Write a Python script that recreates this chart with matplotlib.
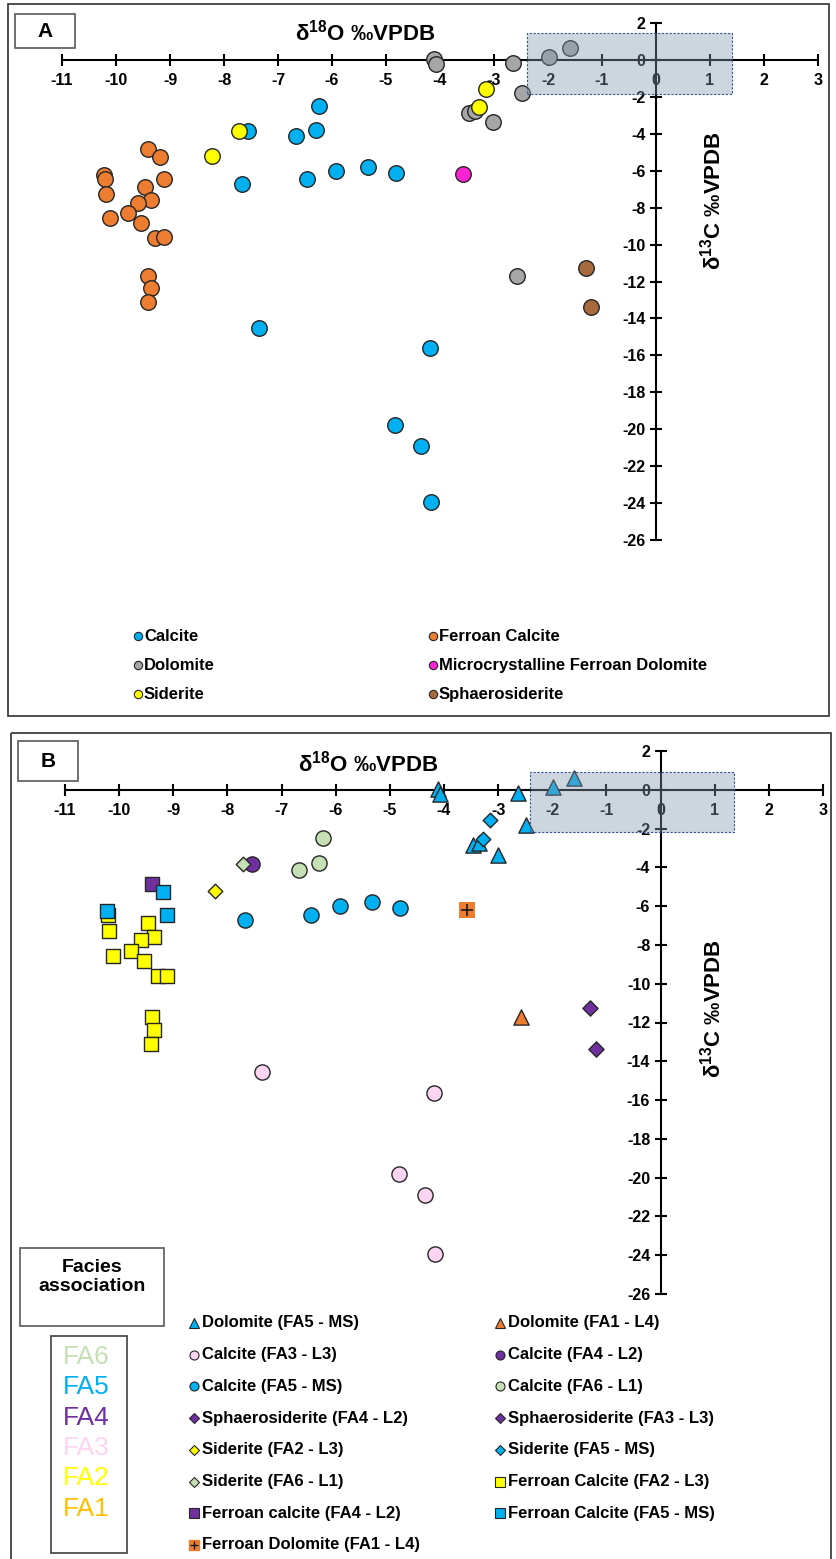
import matplotlib
matplotlib.use("Agg")
import matplotlib.pyplot as plt
from matplotlib.patches import Rectangle

plt.rcParams['font.family'] = ['Liberation Sans', 'DejaVu Sans']
plt.rcParams['font.weight'] = 'bold'
plt.rcParams['axes.unicode_minus'] = False
plt.rcParams['mathtext.fontset'] = 'custom'
plt.rcParams['mathtext.rm'] = 'Liberation Sans'
plt.rcParams['mathtext.bf'] = 'Liberation Sans:bold'

W, H = 836, 1559

# ---------------- data, panel A (by mineral) ----------------
calcite_x = [-6.24, -7.55, -6.67, -6.30, -5.93, -5.33, -4.81, -6.46, -7.67, -7.36, -4.19, -4.84, -4.35, -4.17]
calcite_y = [-2.49, -3.85, -4.12, -3.79, -6.01, -5.80, -6.12, -6.45, -6.72, -14.54, -15.62, -19.79, -20.89, -23.94]
fcalcite_x = [-9.40, -9.19, -10.23, -10.20, -9.12, -10.19, -9.46, -9.36, -9.59, -9.78, -10.12, -9.54, -9.28, -9.12, -9.40, -9.35, -9.41]
fcalcite_y = [-4.84, -5.27, -6.25, -6.45, -6.45, -7.26, -6.86, -7.60, -7.75, -8.30, -8.56, -8.85, -9.62, -9.60, -11.70, -12.37, -13.09]
dolomite_x = [-4.12, -4.08, -2.64, -1.99, -1.59, -2.48, -3.46, -3.35, -3.01, -2.57]
dolomite_y = [0.05, -0.22, -0.14, 0.14, 0.63, -1.81, -2.85, -2.76, -3.36, -11.70]
siderite_x = [-7.72, -8.23, -3.15, -3.28]
siderite_y = [-3.85, -5.22, -1.57, -2.56]
microdol_x = [-3.57]
microdol_y = [-6.19]
sphaero_x = [-1.30, -1.20]
sphaero_y = [-11.27, -13.38]

# ---------------- data, panel B (by facies association) ----------------
dol_fa5_x = [-4.12, -4.08, -2.64, -1.99, -1.59, -2.48, -3.46, -3.35, -3.01]
dol_fa5_y = [0.05, -0.22, -0.14, 0.14, 0.63, -1.81, -2.85, -2.76, -3.36]
dol_fa1_x = [-2.57]
dol_fa1_y = [-11.70]
cal_fa3_x = [-7.36, -4.19, -4.84, -4.35, -4.17]
cal_fa3_y = [-14.54, -15.62, -19.79, -20.89, -23.94]
cal_fa4_x = [-7.55]
cal_fa4_y = [-3.85]
cal_fa5_x = [-5.93, -5.33, -4.81, -6.46, -7.67]
cal_fa5_y = [-6.01, -5.80, -6.12, -6.45, -6.72]
cal_fa6_x = [-6.24, -6.67, -6.30]
cal_fa6_y = [-2.49, -4.12, -3.79]
sph_fa4_x = [-1.30]
sph_fa4_y = [-11.27]
sph_fa3_x = [-1.20]
sph_fa3_y = [-13.38]
sid_fa2_x = [-8.23]
sid_fa2_y = [-5.22]
sid_fa5_x = [-3.15, -3.28]
sid_fa5_y = [-1.57, -2.56]
sid_fa6_x = [-7.72]
sid_fa6_y = [-3.85]
fc_fa2_x = [-10.20, -10.19, -9.46, -9.36, -9.59, -9.78, -10.12, -9.54, -9.28, -9.12, -9.40, -9.35, -9.41]
fc_fa2_y = [-6.45, -7.26, -6.86, -7.60, -7.75, -8.30, -8.56, -8.85, -9.62, -9.60, -11.70, -12.37, -13.09]
fc_fa4_x = [-9.40]
fc_fa4_y = [-4.84]
fc_fa5_x = [-9.19, -10.23, -9.12]
fc_fa5_y = [-5.27, -6.25, -6.45]
fd_fa1_x = [-3.57]
fd_fa1_y = [-6.19]

x_ticks = list(range(-11, 4))
y_ticks = list(range(-26, 3, 2))

BLUE = '#00b0f0'
ORANGE = '#ed7d31'
GREY = '#a6a6a6'
MAGENTA = '#ff22d2'
YELLOW = '#ffff00'
BROWN = '#a66a3e'
PINK = '#fdd4f2'
PURPLE = '#7030a0'
LGREEN = '#c5e0b4'


def px_axes(x0, x1, ytop, ybot):
    return [x0 / W, 1 - ybot / H, (x1 - x0) / W, (ybot - ytop) / H]


fig = plt.figure(figsize=(W / 100, H / 100), dpi=100)

# overlay in pixel coordinates for frames / legends
ov = fig.add_axes([0, 0, 1, 1])
ov.set_xlim(0, W)
ov.set_ylim(H, 0)
ov.axis('off')


def setup_axes(ax):
    ax.set_facecolor('none')
    ax.set_xlim(-11, 3)
    ax.set_ylim(-26, 2)
    for s in ['top', 'right']:
        ax.spines[s].set_visible(False)
    ax.spines['left'].set_position(('data', 0))
    ax.spines['bottom'].set_position(('data', 0))
    for s in ['left', 'bottom']:
        ax.spines[s].set_linewidth(1.5)
    ax.set_xticks(x_ticks)
    ax.set_yticks(y_ticks)
    ax.tick_params(direction='inout', length=9, width=1.5, labelsize=11.5, pad=3)
    ax.tick_params(axis='x', pad=5)
    for lab in ax.get_xticklabels() + ax.get_yticklabels():
        lab.set_fontweight('bold')


# ================= panel A =================
ov.add_patch(Rectangle((8, 4), 821, 712, fill=False, ec='#404040', lw=1.3))
ov.add_patch(Rectangle((15, 14), 60, 34, fill=False, ec='#595959', lw=1.2))
ov.text(45, 31, 'A', ha='center', va='center', fontsize=15, fontweight='bold')

axA = fig.add_axes(px_axes(62, 818, 23, 540))
setup_axes(axA)
kw = dict(edgecolors='#262626', linewidths=1.0, s=125, zorder=3, clip_on=False)
axA.scatter(calcite_x, calcite_y, c=BLUE, **kw)
axA.scatter(fcalcite_x, fcalcite_y, c=ORANGE, **kw)
axA.scatter(dolomite_x, dolomite_y, c=GREY, **kw)
axA.scatter(siderite_x, siderite_y, c=YELLOW, **kw)
axA.scatter(microdol_x, microdol_y, c=MAGENTA, **kw)
axA.scatter(sphaero_x, sphaero_y, c=BROWN, **kw)
axA.add_patch(Rectangle((-2.39, -1.84), 3.79, 3.29, fc=(0.518, 0.592, 0.69, 0.4),
                        ec='#2f5597', lw=0.8, ls=(0, (2, 1.5)), zorder=4))
ov.text(365, 33, 'δ$^{\\mathbf{18}}$O ‰VPDB', ha='center', va='center', fontsize=16, fontweight='bold')
ov.text(713, 201, 'δ$^{\\mathbf{13}}$C ‰VPDB', ha='center', va='center', rotation=90,
        fontsize=16, fontweight='bold')

legA = [('Calcite', BLUE), ('Ferroan Calcite', ORANGE), ('Dolomite', GREY),
        ('Microcrystalline Ferroan Dolomite', MAGENTA), ('Siderite', YELLOW), ('Sphaerosiderite', BROWN)]
for i, (lab, col) in enumerate(legA):
    cx = 138 if i % 2 == 0 else 433
    cy = 636 + 29 * (i // 2)
    ov.plot(cx, cy, 'o', ms=6, mfc=col, mec='#262626', mew=0.8)
    ov.text(cx + 6, cy, lab, ha='left', va='center', fontsize=12, fontweight='bold')

# ================= panel B =================
ov.add_patch(Rectangle((11, 733), 820, 840, fill=False, ec='#404040', lw=1.3, clip_on=True))
ov.add_patch(Rectangle((18, 741), 60, 40, fill=False, ec='#595959', lw=1.2))
ov.text(48, 761, 'B', ha='center', va='center', fontsize=15, fontweight='bold')

axB = fig.add_axes(px_axes(65, 823, 751, 1294))
setup_axes(axB)
ek = dict(edgecolors='#262626', linewidths=1.0, zorder=3, clip_on=False)
axB.scatter(cal_fa3_x, cal_fa3_y, c=PINK, marker='o', s=120, **ek)
axB.scatter(cal_fa4_x, cal_fa4_y, c=PURPLE, marker='o', s=120, **ek)
axB.scatter(cal_fa5_x, cal_fa5_y, c=BLUE, marker='o', s=120, **ek)
axB.scatter(cal_fa6_x, cal_fa6_y, c=LGREEN, marker='o', s=120, **ek)
axB.scatter(dol_fa5_x, dol_fa5_y, c=BLUE, marker='^', s=120, **ek)
axB.scatter(dol_fa1_x, dol_fa1_y, c=ORANGE, marker='^', s=120, **ek)
axB.scatter(sph_fa4_x, sph_fa4_y, c=PURPLE, marker='D', s=60, **ek)
axB.scatter(sph_fa3_x, sph_fa3_y, c=PURPLE, marker='D', s=60, **ek)
axB.scatter(sid_fa2_x, sid_fa2_y, c=YELLOW, marker='D', s=55, **ek)
axB.scatter(sid_fa5_x, sid_fa5_y, c=BLUE, marker='D', s=55, **ek)
axB.scatter(sid_fa6_x, sid_fa6_y, c=LGREEN, marker='D', s=55, **ek)
axB.scatter(fc_fa2_x, fc_fa2_y, c=YELLOW, marker='s', s=110, **ek)
axB.scatter(fc_fa4_x, fc_fa4_y, c=PURPLE, marker='s', s=110, **ek)
axB.scatter(fc_fa5_x, fc_fa5_y, c=BLUE, marker='s', s=110, **ek)
axB.scatter(fd_fa1_x, fd_fa1_y, c=ORANGE, marker='s', s=125, linewidths=0, zorder=3, clip_on=False)
axB.scatter(fd_fa1_x, fd_fa1_y, c='#1a1a1a', marker='+', s=85, linewidths=1.2, zorder=3, clip_on=False)
axB.add_patch(Rectangle((-2.41, -2.2), 3.77, 3.14, fc=(0.518, 0.592, 0.69, 0.4),
                        ec='#2f5597', lw=0.8, ls=(0, (2, 1.5)), zorder=4))
ov.text(368, 764, 'δ$^{\\mathbf{18}}$O ‰VPDB', ha='center', va='center', fontsize=16, fontweight='bold')
ov.text(713, 1009, 'δ$^{\\mathbf{13}}$C ‰VPDB', ha='center', va='center', rotation=90,
        fontsize=16, fontweight='bold')

# legend B
legB = [('Dolomite (FA5 - MS)', '^', BLUE), ('Dolomite (FA1 - L4)', '^', ORANGE),
        ('Calcite (FA3 - L3)', 'o', PINK), ('Calcite (FA4 - L2)', 'o', PURPLE),
        ('Calcite (FA5 - MS)', 'o', BLUE), ('Calcite (FA6 - L1)', 'o', LGREEN),
        ('Sphaerosiderite (FA4 - L2)', 'D', PURPLE), ('Sphaerosiderite (FA3 - L3)', 'D', PURPLE),
        ('Siderite (FA2 - L3)', 'D', YELLOW), ('Siderite (FA5 - MS)', 'D', BLUE),
        ('Siderite (FA6 - L1)', 'D', LGREEN), ('Ferroan Calcite (FA2 - L3)', 's', YELLOW),
        ('Ferroan calcite (FA4 - L2)', 's', PURPLE), ('Ferroan Calcite (FA5 - MS)', 's', BLUE),
        ('Ferroan Dolomite (FA1 - L4)', 's', ORANGE)]
for i, (lab, mk, col) in enumerate(legB):
    cx = 194 if i % 2 == 0 else 500
    cy = 1323 + 31.7 * (i // 2)
    ms = 6.5 if mk in ('^', 's', 'o') else 5
    if lab.startswith('Ferroan Dolomite'):
        ov.plot(cx, cy, 's', ms=7, mfc=col, mec=col)
        ov.plot(cx, cy, '+', ms=6, mec='#1a1a1a', mew=1)
    else:
        ov.plot(cx, cy, mk, ms=ms, mfc=col, mec='#262626', mew=0.8)
    ov.text(cx + 8, cy, lab, ha='left', va='center', fontsize=12, fontweight='bold')

# facies association boxes
ov.add_patch(Rectangle((20, 1248), 144, 78, fill=False, ec='#595959', lw=1.2))
ov.text(92, 1277, 'Facies\nassociation', ha='center', va='center', fontsize=14,
        fontweight='bold', linespacing=1.2)
ov.add_patch(Rectangle((51, 1336), 76, 217, fill=False, ec='#404040', lw=1.2))
fa_labels = ['FA6', 'FA5', 'FA4', 'FA3', 'FA2', 'FA1']
fa_colors = [LGREEN, BLUE, PURPLE, PINK, YELLOW, '#ffc000']
for i, (lab, col) in enumerate(zip(fa_labels, fa_colors)):
    ov.text(63, 1357 + 30.3 * i, lab, ha='left', va='center', fontsize=19,
            fontweight='normal', color=col)

fig.savefig('out.png', dpi=100)
